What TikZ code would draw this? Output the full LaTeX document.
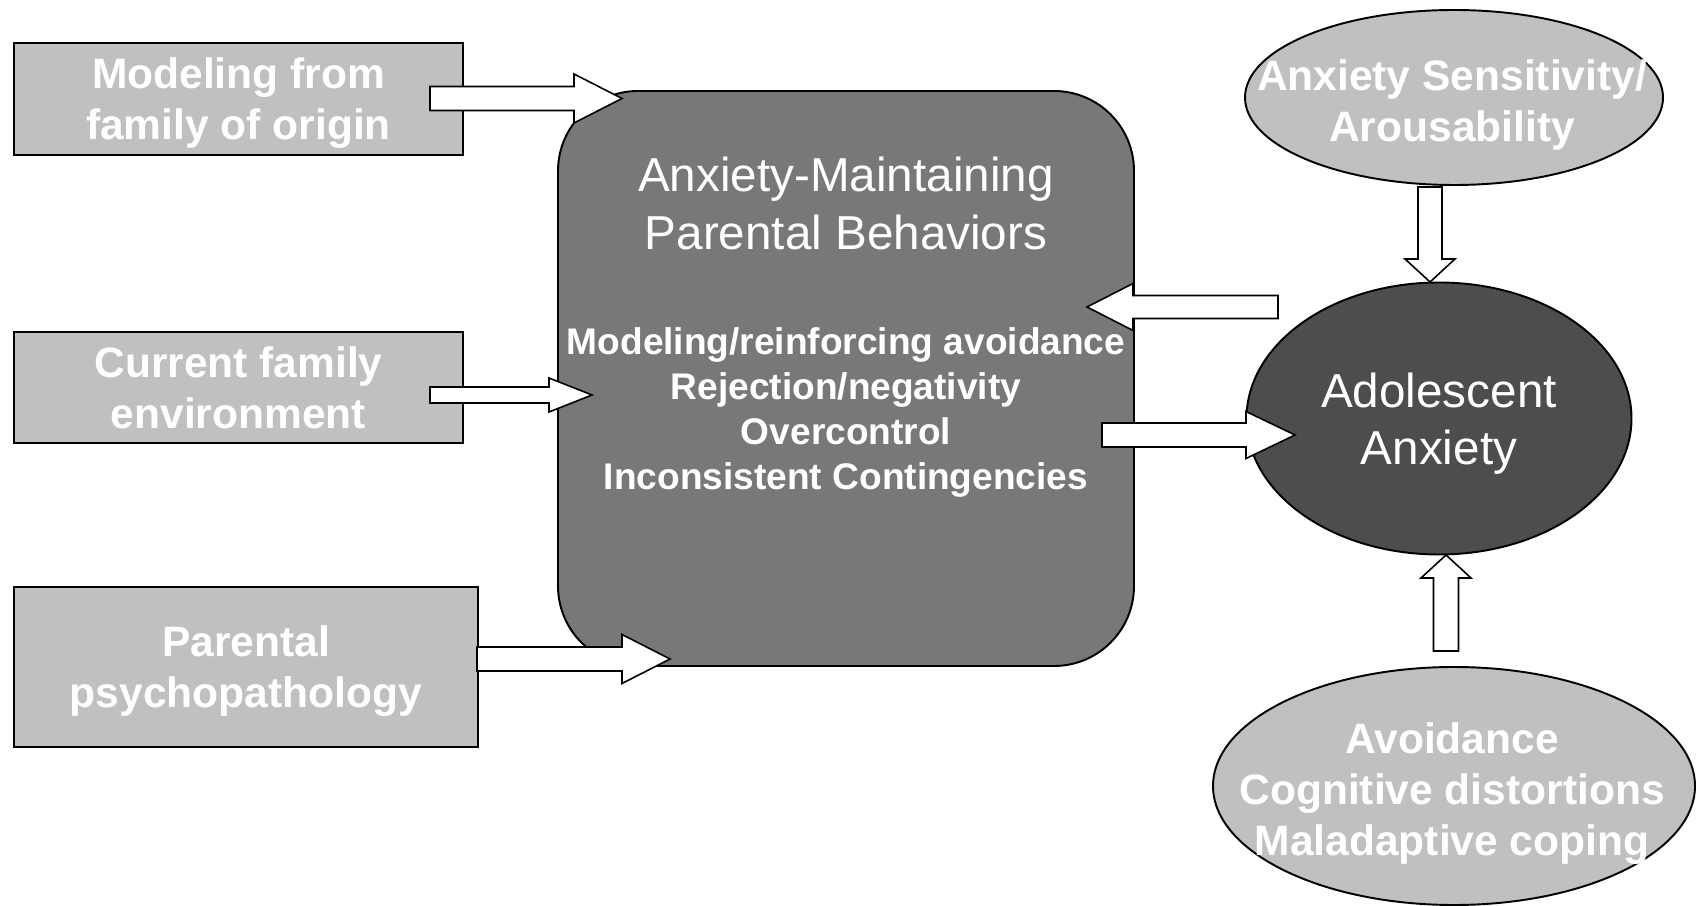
\documentclass[tikz,border=0pt]{standalone}
\usepackage{fontspec}
\setmainfont{Liberation Sans}
\usepackage{tikz}
\usetikzlibrary{shapes.geometric, calc, positioning}
\definecolor{sourcecolor}{RGB}{192, 192, 192}
\definecolor{parentcolor}{RGB}{120, 120, 120}
\definecolor{anxietycolor}{RGB}{77, 77, 77}

% block arrow: from, tip, shaft half width, head half width, head length
\newcommand{\blockarrow}[5]{%
    \coordinate (ba) at ($(#2)!#5!(#1)$);
    \draw[arrowbody] ($(#1)!#3!90:(#2)$) -- ($(ba)!#3!90:(#2)$) -- ($(ba)!#4!90:(#2)$) -- (#2)
        -- ($(ba)!#4!-90:(#2)$) -- ($(ba)!#3!-90:(#2)$) -- ($(#1)!#3!-90:(#2)$) -- cycle;
}

\begin{document}
\begin{tikzpicture}[
    source/.style={draw, line width=1.1pt, fill=sourcecolor, minimum width=8.98cm, minimum height=2.24cm, align=center, text=white, text depth=0pt, font=\fontsize{24.2}{29}\selectfont\bfseries},
    parent/.style={draw, line width=1.1pt, fill=parentcolor, rounded corners=1.6cm, minimum width=11.52cm, minimum height=11.5cm},
    factor/.style={draw, ellipse, line width=1.1pt, fill=sourcecolor, inner sep=0pt},
    lighttext/.style={align=center, text=white, font=\fontsize{24.2}{29}\selectfont\bfseries},
    titletext/.style={align=center, text=white, font=\fontsize{27.1}{33}\selectfont},
    listtext/.style={align=center, text=white, font=\fontsize{21.1}{25.6}\selectfont\bfseries},
    arrowbody/.style={draw, fill=white, line width=0.9pt, line join=miter}
]
    \useasboundingbox (0, 0) rectangle (33.98, 18.1);

    % Left boxes
    \node[source] (origin) at (4.77, 16.12) {Modeling from\\family of origin};
    \node[source, minimum height=2.22cm] (current) at (4.77, 10.35) {Current family\\environment};
    \node[source, minimum width=9.28cm, minimum height=3.2cm] (psycho) at (4.92, 4.76) {Parental\\psychopathology};

    % Parental behaviors
    \node[parent] (behav) at (16.92, 10.53) {};
    \node[titletext] (behavtitle) at (16.92, 14.04) {Anxiety-Maintaining\\Parental Behaviors};
    \node[listtext] (behavlist) at (16.92, 9.85) {Modeling/reinforcing avoidance\\Rejection/negativity\\Overcontrol\\Inconsistent Contingencies};

    % Right side
    \node[factor, minimum width=8.36cm, minimum height=3.5cm] (sens) at (29.08, 16.15) {};
    \node[lighttext] (senstext) at (29.04, 16.0) {Anxiety Sensitivity/\\Arousability};
    \node[factor, fill=anxietycolor, minimum width=7.7cm, minimum height=5.44cm, align=center, text=white, text depth=0pt, font=\fontsize{27.1}{32.4}\selectfont] (adol) at (28.78, 9.73) {Adolescent\\Anxiety};
    \node[factor, minimum width=9.64cm, minimum height=4.76cm] (cogn) at (29.08, 2.38) {};
    \node[lighttext] (cogntext) at (29.04, 2.23) {Avoidance\\Cognitive distortions\\Maladaptive coping};

    % Arrow ends
    \coordinate (from1) at (8.6, 16.13);   \coordinate (to1) at (12.44, 16.13);
    \coordinate (from2) at (8.6, 10.2);    \coordinate (to2) at (11.84, 10.2);
    \coordinate (from3) at (9.54, 4.92);   \coordinate (to3) at (13.4, 4.92);
    \coordinate (from4) at (25.56, 11.96); \coordinate (to4) at (21.74, 11.96);
    \coordinate (from5) at (22.04, 9.4);   \coordinate (to5) at (25.9, 9.4);
    \coordinate (from6) at (28.6, 14.36);  \coordinate (to6) at (28.6, 12.46);
    \coordinate (from7) at (28.92, 5.08);  \coordinate (to7) at (28.92, 7.0);

    % Arrows
    \blockarrow{from1}{to1}{0.24cm}{0.49cm}{0.96cm}
    \blockarrow{from2}{to2}{0.16cm}{0.34cm}{0.86cm}
    \blockarrow{from3}{to3}{0.24cm}{0.49cm}{0.96cm}
    \blockarrow{from4}{to4}{0.23cm}{0.47cm}{0.92cm}
    \blockarrow{from5}{to5}{0.24cm}{0.47cm}{0.98cm}
    \blockarrow{from6}{to6}{0.24cm}{0.5cm}{0.46cm}
    \blockarrow{from7}{to7}{0.25cm}{0.5cm}{0.46cm}

\end{tikzpicture}
\end{document}
